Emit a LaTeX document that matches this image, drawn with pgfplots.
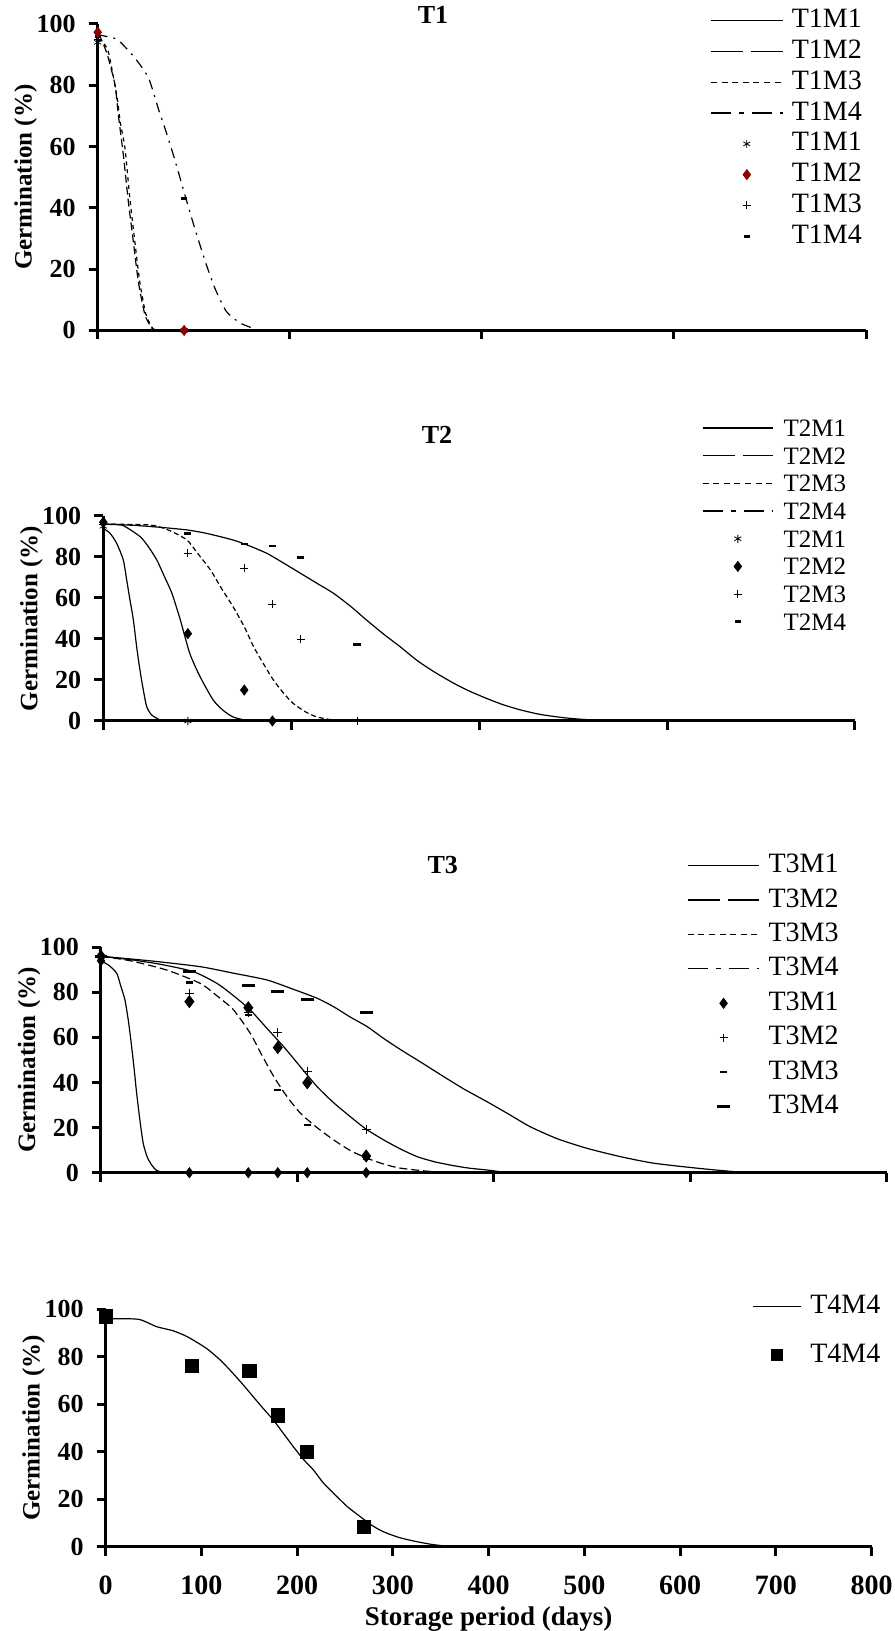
\documentclass[border=0pt]{standalone}
\usepackage{fontspec}
\setmainfont{Liberation Serif}
\usepackage{pgfplots}
\pgfplotsset{compat=1.18}
\definecolor{dred}{RGB}{139,0,0}
\pgfplotsset{
  panel/.style={
    scale only axis, anchor=south west,
    axis lines=left, axis line style={-, line width=1.5pt},
    xmin=0,xmax=800,ymin=0,ymax=100,
    ytick={0,20,...,100},
    tick align=outside, major tick length=4.5pt,
    tick style={black, line width=1.5pt},
    /pgf/number format/assume math mode=true,
    yticklabel style={font=\bfseries\fontsize{13}{13}\selectfont, xshift=-3pt},
    xticklabel style={font=\bfseries\fontsize{14}{14}\selectfont, inner sep=0pt, anchor=north, yshift=-10pt},
    ylabel={Germination (\%)},
    ylabel style={font=\bfseries\fontsize{12.5}{12.5}\selectfont, at={(axis description cs:0,0.5)}, anchor=center, yshift=36pt},
    clip=false,
    legend style={draw=none, fill=none, inner sep=0pt, anchor=north west, font=\fontsize{14}{14}\selectfont, nodes={inner sep=0pt, text height=10pt, text depth=3pt}, /tikz/every odd column/.append style={column sep=4.3pt}},
    legend cell align=left,
    title style={font=\bfseries\fontsize{13}{13}\selectfont, anchor=center},
  },
  crv/.style={black, line width=0.6pt, smooth, tension=0.4},
  mk/.style={black, only marks, mark options={solid}},
}
\begin{document}
\begin{tikzpicture}
\path[use as bounding box] (0,0) rectangle (447pt,815.5pt);

% ---------------- T1 ----------------
\begin{axis}[panel, at={(48.85pt,650.25pt)}, width=384.15pt, height=153.25pt,
  xtick={0,200,...,800}, xticklabels={},
  title={T1}, title style={at={(0.4364,0.990)}},
  legend style={at={(0.797,1.0545)}, row sep=2.4pt},
  legend image code/.code={\draw[mark repeat=2,mark phase=2,#1] plot coordinates {(0pt,0pt) (17.9pt,0pt) (35.8pt,0pt)};}]
\addlegendimage{black, line width=0.6pt}\addlegendentry{T1M1}
\addlegendimage{black, line width=0.6pt, dash pattern=on 16pt off 4pt}\addlegendentry{T1M2}
\addlegendimage{black, line width=0.6pt, dash pattern=on 3pt off 2.3pt}\addlegendentry{T1M3}
\addlegendimage{black, line width=0.6pt, dash pattern=on 10pt off 4pt on 2.5pt off 4pt}\addlegendentry{T1M4}
\addlegendimage{mk, mark=asterisk, mark size=2pt}\addlegendentry{T1M1}
\addlegendimage{mk, mark=diamond*, mark size=2.5pt, mark options={fill=dred, draw=dred}}\addlegendentry{T1M2}
\addlegendimage{mk, mark=+, mark size=2pt}\addlegendentry{T1M3}
\addlegendimage{mk, mark=-, mark size=1.6pt, mark options={line width=1.3pt}}\addlegendentry{T1M4}
% steep curves
\addplot[crv, forget plot, dash pattern=on 4pt off 2pt] table {
x y
0 96
2.4 95.9
10 90
18 80.1
21.5 70.3
26.7 57.3
31.9 42.1
37.1 29
42.3 16
49.2 5.1
56.2 0.8
60 0
};
\addplot[crv, forget plot, dash pattern=on 2pt off 2pt] table {
x y
0 95
5 94
11 91
19.8 76.8
23.5 68
28.4 59.5
33.5 43
38.5 29.5
43.5 16.5
50 5.5
57 0.8
61 0
};
% slow curve
\addplot[crv, forget plot, dash pattern=on 5pt off 3pt on 1pt off 3pt] table {
x y
0 96.5
8 96
21 94.8
39 88.8
53 82.3
63 72.5
70 66
80 56
91 44
101 33.4
112 22.5
122 13.8
134 6.2
148 2.5
161 0.8
168 0
};
\addplot[mk, forget plot, mark=asterisk, mark size=2pt] table {
x y
0 94
90 0
};
\addplot[mk, forget plot, mark=+, mark size=2pt] table {
x y
0 95
90 0
};
\addplot[mk, forget plot, mark=-, mark size=1.6pt, mark options={line width=1.3pt}] table {
x y
0 96
90 43
};
\addplot[mk, forget plot, mark=diamond*, mark size=2.5pt, mark options={fill=dred, draw=dred}] table {
x y
0 97.3
90 0
};
\end{axis}

% ---------------- T2 ----------------
\begin{axis}[panel, at={(51.65pt,455pt)}, width=375.85pt, height=102.5pt,
  xtick={0,200,...,800}, xticklabels={},
  title={T2}, title style={at={(0.444,1.338)}},
  legend style={at={(0.796,1.4985)}, row sep=0pt, font=\fontsize{12.5}{12.5}\selectfont, nodes={text height=11.14pt, text depth=2.7pt}, /tikz/every odd column/.append style={column sep=5pt}},
  legend image code/.code={\draw[mark repeat=2,mark phase=2,#1] plot coordinates {(0pt,0pt) (17.6pt,0pt) (35.2pt,0pt)};}]
\addlegendimage{black, line width=0.6pt}\addlegendentry{T2M1}
\addlegendimage{black, line width=0.6pt, dash pattern=on 16pt off 4pt}\addlegendentry{T2M2}
\addlegendimage{black, line width=0.6pt, dash pattern=on 3pt off 2.3pt}\addlegendentry{T2M3}
\addlegendimage{black, line width=0.6pt, dash pattern=on 10pt off 4pt on 2.5pt off 4pt}\addlegendentry{T2M4}
\addlegendimage{mk, mark=asterisk, mark size=2pt}\addlegendentry{T2M1}
\addlegendimage{mk, mark=diamond*, mark size=2.5pt}\addlegendentry{T2M2}
\addlegendimage{mk, mark=+, mark size=2pt}\addlegendentry{T2M3}
\addlegendimage{mk, mark=-, mark size=1.6pt, mark options={line width=1.3pt}}\addlegendentry{T2M4}
\addplot[crv, forget plot] table {
x y
0 94
7.1 91.6
14.2 86.7
21.3 78.5
24.9 68.8
28.4 59
32 49.3
35.5 36.2
39 24.9
42.6 15.1
46.2 7
51.5 2.9
60.4 0.5
65 0
};
\addplot[crv, forget plot] table {
x y
0 96
20 95.5
39 90
48 85
57 78.5
65 70.5
73 62.3
82 49.3
92 33
103 21.6
117 10.2
128 5
138 2
150 0.5
160 0
};
\addplot[crv, forget plot, dash pattern=on 2.5pt off 1.5pt] table {
x y
0 96
50 95.6
70 93
89 88.3
100 82
114 73.7
126 64.5
138 55.8
150 46
160 36.2
171 27.5
181 20
192 13.5
202 8.6
215 4.5
227 2
244 0.5
260 0
};
\addplot[crv, forget plot] table {
x y
0 96
30 95.5
60 94.5
89 93.2
110 91.5
138 88.3
155 85.5
174 81.8
192 77
210 72
228 67
245 62.3
263 56
280 49.3
298 42.5
316 36.2
334 29.5
352 24
373 18.4
390 14.5
408 11
425 8
444 5.4
465 3.2
490 1.6
510 0.8
530 0.3
};
\addplot[mk, forget plot, mark=asterisk, mark size=2pt] table {
x y
0 95
90 0
};
\addplot[mk, forget plot, mark=diamond*, mark size=2.5pt] table {
x y
0 97
90 42.6
150 15.1
180 0
};
\addplot[mk, forget plot, mark=+, mark size=2pt] table {
x y
0 96
90 81.8
150 74.5
180 57
210 39.8
270 0
};
\addplot[mk, forget plot, mark=-, mark size=1.8pt, mark options={line width=1.3pt}] table {
x y
0 96
90 91.6
150 86.3
180 85.4
210 79.8
270 37.4
};
\end{axis}

% ---------------- T3 ----------------
\begin{axis}[panel, at={(50.5pt,229.15pt)}, width=392.85pt, height=112.7pt,
  xtick={0,200,...,800}, xticklabels={},
  title={T3}, title style={at={(0.435,1.312)}},
  legend style={at={(0.7455,1.4215)}, row sep=4.2pt},
  legend image code/.code={\draw[mark repeat=2,mark phase=2,#1] plot coordinates {(0pt,0pt) (17.9pt,0pt) (35.8pt,0pt)};}]
\addlegendimage{black, line width=0.6pt}\addlegendentry{T3M1}
\addlegendimage{black, line width=0.6pt, dash pattern=on 16pt off 4pt}\addlegendentry{T3M2}
\addlegendimage{black, line width=0.6pt, dash pattern=on 3pt off 2.3pt}\addlegendentry{T3M3}
\addlegendimage{black, line width=0.6pt, dash pattern=on 10pt off 4pt on 2.5pt off 4pt}\addlegendentry{T3M4}
\addlegendimage{mk, mark=diamond*, mark size=2.5pt}\addlegendentry{T3M1}
\addlegendimage{mk, mark=+, mark size=2pt}\addlegendentry{T3M2}
\addlegendimage{mk, mark=-, mark size=1.7pt, mark options={line width=1.2pt}}\addlegendentry{T3M3}
\addlegendimage{mk, mark=-, mark size=3.2pt, mark options={line width=1.4pt}}\addlegendentry{T3M4}
\addplot[crv, forget plot] table {
x y
0 94
8 92
16 88.5
20 83
24.4 76.6
28 67
31.2 55.9
34 45
36.3 35.2
40 22
43 13
47 7
51.6 3.4
56 1.2
60 0.5
65 0
};
\addplot[crv, forget plot] table {
x y
0 96
30 94.5
60 92.5
94 89.2
118 84
135 78.5
152 72.2
168 64.5
186 55.9
203 47
220 38.2
237 31
254 24.8
270 19.3
288 14.5
305 10.5
322 7.1
340 4.8
358 3.2
375 2
393 1.2
405 0.5
};
\addplot[crv, forget plot, dash pattern=on 4pt off 2pt] table {
x y
0 96
30 94
67 89.9
101 84
118 78.5
135 72.2
152 61.8
164 52
176 42.6
189 34
203 26.4
220 20
237 14.5
254 9.8
271 6.4
288 3.8
305 2
338 0.5
389 0
};
\addplot[crv, forget plot] table {
x y
0 96
50 94
101 91.4
135 88.5
169 85.5
195 81.5
220 77.4
237 73.6
254 69
271 64.8
288 59.5
305 54.6
325 49.2
349 42.6
370 37
393 31.5
415 26
437 20.4
465 15
495 10.8
530 7
563 4.2
607 2
644 0.5
660 0.3
};
\addplot[mk, forget plot, mark=diamond*, mark size=2.5pt] table {
x y
0 94
90 0
150 0
180 0
210 0
270 0
};
\addplot[mk, forget plot, mark=diamond*, mark size=3pt] table {
x y
0 96
90 75.9
150 73.2
180 55.5
210 39.9
270 7.4
};
\addplot[mk, forget plot, mark=+, mark size=2.2pt] table {
x y
0 96
90 79.6
150 71
180 62.1
210 44.8
270 19.2
};
\addplot[mk, forget plot, mark=-, mark size=1.7pt, mark options={line width=1.2pt}] table {
x y
0 95
90 84.3
150 70
180 36.7
210 21.2
270 6
};
\addplot[mk, forget plot, mark=-, mark size=3.2pt, mark options={line width=1.4pt}] table {
x y
0 96
90 89.2
150 83
180 80.3
210 76.9
270 71.2
};
\end{axis}

% ---------------- T4 ----------------
\begin{axis}[panel, at={(52.85pt,42.15pt)}, width=383pt, height=118.7pt,
  xtick={0,100,...,800},
  xlabel={Storage period (days)},
  xlabel style={font=\bfseries\fontsize{13.5}{13.5}\selectfont, inner sep=0pt, at={(axis description cs:0.5,0)}, anchor=base, yshift=-39.3pt},
  legend style={at={(0.8433,1.0674)}, row sep=11.2pt},
  legend image code/.code={\draw[mark repeat=2,mark phase=2,#1] plot coordinates {(0pt,0pt) (12.1pt,0pt) (24.2pt,0pt)};}]
\addlegendimage{black, line width=0.6pt}\addlegendentry{T4M4}
\addlegendimage{mk, mark=square*, mark size=2.6pt}\addlegendentry{T4M4}
\addplot[crv, forget plot] table {
x y
0 96
34 95.8
53 92.7
70 91
85 88.5
105 83.6
120 78.5
133 73
144 68
154 63.2
165 58
175 53.4
186 47.5
196 42.1
206 37
217 32.3
227 27
238 22.5
252 17
266 12.6
278 9
290 6.3
307 3.8
325 2.1
340 1
350 0.5
};
\addplot[mk, forget plot, mark=square*, mark size=3.3pt] table {
x y
0 97
90 76.2
150 74.1
180 55.3
210 39.9
270 8.2
};
\end{axis}
\end{tikzpicture}
\end{document}
